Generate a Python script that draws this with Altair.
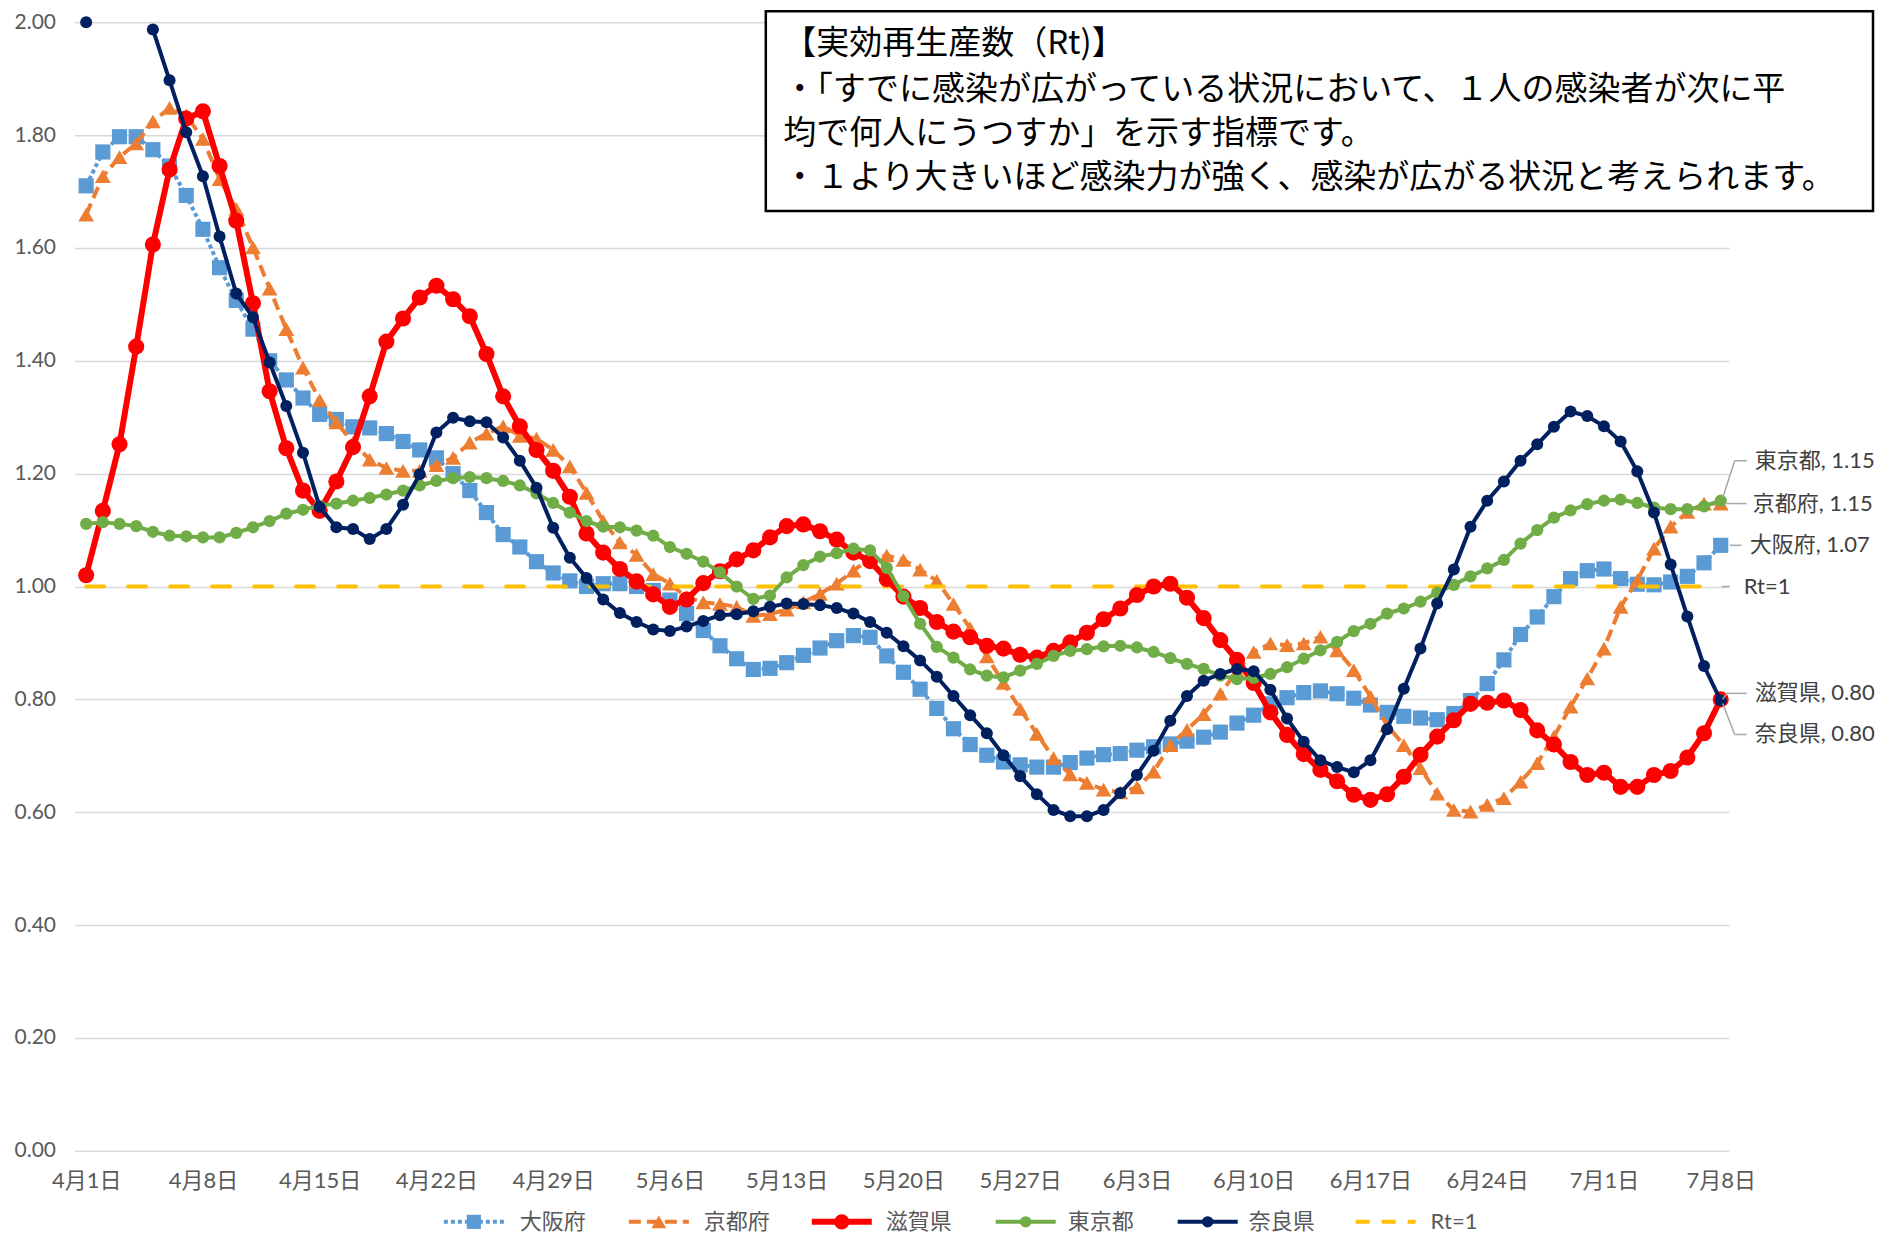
import altair as alt
import pandas as pd

# ---------------- data ----------------
dates = pd.date_range("2021-04-01", "2021-07-08", freq="D")  # 99 days
tick_days = [0, 7, 14, 21, 28, 35, 42, 49, 56, 63, 70, 77, 84, 91, 98]
tick_labels = ["4月1日", "4月8日", "4月15日", "4月22日", "4月29日", "5月6日", "5月13日",
               "5月20日", "5月27日", "6月3日", "6月10日", "6月17日", "6月24日", "7月1日", "7月8日"]
y_ticks = [0.0, 0.2, 0.4, 0.6, 0.8, 1.0, 1.2, 1.4, 1.6, 1.8, 2.0]

osaka = [1.71, 1.77, 1.797, 1.797, 1.774, 1.745, 1.693, 1.633, 1.565, 1.507,
         1.456, 1.40, 1.366, 1.334, 1.305, 1.296, 1.283, 1.281, 1.271, 1.257,
         1.242, 1.228, 1.20, 1.17, 1.131, 1.092, 1.07, 1.044, 1.024, 1.01,
         1.0, 1.005, 1.005, 1.0, 0.993, 0.976, 0.952, 0.922, 0.895, 0.872,
         0.853, 0.855, 0.865, 0.878, 0.891, 0.904, 0.913, 0.91, 0.877, 0.848,
         0.818, 0.784, 0.748, 0.72, 0.701, 0.689, 0.684, 0.68, 0.68, 0.688,
         0.696, 0.702, 0.704, 0.71, 0.716, 0.721, 0.726, 0.733, 0.742, 0.758,
         0.772, 0.792, 0.803, 0.812, 0.815, 0.81, 0.802, 0.79, 0.777, 0.77,
         0.767, 0.764, 0.775, 0.798, 0.828, 0.87, 0.915, 0.946, 0.982, 1.014,
         1.028, 1.031, 1.014, 1.004, 1.003, 1.008, 1.018, 1.042, 1.073]

kyoto = [1.659, 1.727, 1.761, 1.785, 1.824, 1.848, 1.835, 1.793, 1.722, 1.669,
         1.601, 1.528, 1.456, 1.388, 1.33, 1.291, 1.255, 1.225, 1.21, 1.205,
         1.205, 1.215, 1.228, 1.255, 1.271, 1.284, 1.267, 1.262, 1.242, 1.213,
         1.166, 1.116, 1.078, 1.056, 1.022, 1.005, 0.981, 0.972, 0.969, 0.964,
         0.948, 0.951, 0.959, 0.972, 0.987, 1.005, 1.028, 1.049, 1.055, 1.047,
         1.03, 1.01, 0.969, 0.926, 0.876, 0.829, 0.783, 0.739, 0.696, 0.667,
         0.652, 0.64, 0.635, 0.644, 0.672, 0.719, 0.746, 0.774, 0.81, 0.85,
         0.884, 0.899, 0.896, 0.899, 0.911, 0.887, 0.852, 0.805, 0.754, 0.719,
         0.678, 0.633, 0.604, 0.601, 0.613, 0.625, 0.654, 0.687, 0.734, 0.787,
         0.837, 0.89, 0.964, 1.011, 1.067, 1.106, 1.132, 1.147, 1.147]

shiga = [1.02, 1.134, 1.252, 1.425, 1.606, 1.739, 1.829, 1.842, 1.745, 1.648,
         1.502, 1.346, 1.245, 1.17, 1.134, 1.186, 1.247, 1.337, 1.434, 1.475,
         1.512, 1.533, 1.509, 1.479, 1.412, 1.337, 1.284, 1.242, 1.205, 1.159,
         1.094, 1.06, 1.031, 1.009, 0.986, 0.964, 0.977, 1.006, 1.027, 1.048,
         1.064, 1.087, 1.107, 1.11, 1.098, 1.083, 1.06, 1.045, 1.013, 0.982,
         0.962, 0.937, 0.92, 0.91, 0.895, 0.89, 0.879, 0.874, 0.886, 0.901,
         0.918, 0.942, 0.961, 0.985, 1.0, 1.005, 0.98, 0.944, 0.905, 0.87,
         0.829, 0.777, 0.737, 0.703, 0.675, 0.655, 0.631, 0.622, 0.632, 0.663,
         0.702, 0.734, 0.763, 0.792, 0.794, 0.798, 0.781, 0.745, 0.72, 0.689,
         0.666, 0.67, 0.645, 0.645, 0.666, 0.673, 0.697, 0.74, 0.80]

tokyo = [1.111, 1.114, 1.111, 1.107, 1.097, 1.09, 1.089, 1.087, 1.087, 1.095,
         1.105, 1.116, 1.129, 1.136, 1.143, 1.147, 1.152, 1.157, 1.163, 1.17,
         1.179, 1.187, 1.192, 1.194, 1.192, 1.187, 1.179, 1.165, 1.148, 1.131,
         1.116, 1.106, 1.105, 1.099, 1.09, 1.07, 1.058, 1.044, 1.025, 1.0,
         0.978, 0.984, 1.016, 1.038, 1.053, 1.059, 1.067, 1.064, 1.033, 0.983,
         0.934, 0.893, 0.874, 0.853, 0.842, 0.839, 0.851, 0.863, 0.877, 0.886,
         0.889, 0.894, 0.895, 0.892, 0.884, 0.873, 0.863, 0.854, 0.842, 0.836,
         0.838, 0.845, 0.857, 0.872, 0.887, 0.902, 0.921, 0.934, 0.952, 0.961,
         0.973, 0.989, 1.003, 1.018, 1.032, 1.047, 1.076, 1.1, 1.122, 1.135,
         1.146, 1.152, 1.154, 1.148, 1.14, 1.137, 1.137, 1.142, 1.152]

nara = [2.0, None, None, None, 1.987, 1.897, 1.805, 1.727, 1.62, 1.519,
        1.477, 1.397, 1.32, 1.237, 1.141, 1.105, 1.102, 1.084, 1.102, 1.145,
        1.199, 1.273, 1.299, 1.293, 1.291, 1.264, 1.223, 1.175, 1.104, 1.051,
        1.015, 0.977, 0.953, 0.937, 0.924, 0.921, 0.929, 0.939, 0.949, 0.951,
        0.956, 0.964, 0.97, 0.969, 0.967, 0.962, 0.952, 0.937, 0.918, 0.894,
        0.869, 0.84, 0.806, 0.772, 0.74, 0.701, 0.664, 0.632, 0.604, 0.593,
        0.593, 0.604, 0.634, 0.666, 0.709, 0.762, 0.806, 0.833, 0.845, 0.854,
        0.85, 0.817, 0.766, 0.725, 0.692, 0.68, 0.671, 0.692, 0.747, 0.819,
        0.89, 0.97, 1.03, 1.106, 1.152, 1.186, 1.223, 1.252, 1.283, 1.31,
        1.302, 1.284, 1.257, 1.204, 1.131, 1.039, 0.947, 0.859, 0.798]

rt_line = [1.0] * 99

note_lines = [
    "【実効再生産数（Rt)】",
    "・「すでに感染が広がっている状況において、１人の感染者が次に平",
    "均で何人にうつすか」を示す指標です。",
    "・１より大きいほど感染力が強く、感染が広がる状況と考えられます。",
]

# ---------------- layout / style ----------------
W, H = 1655, 1129
XMIN, XMAX = -0.7, 98.5
FONT = "Lato, 'Noto Sans CJK JP', sans-serif"
LABEL_COLOR = "#595959"


def xpx(d):
    return (d - XMIN) / (XMAX - XMIN) * W


def ypx(v):
    return H * (1 - v / 2.0)


def frame(vals):
    df = pd.DataFrame({"day": list(range(len(vals))), "value": vals,
                       "date": dates.strftime("%Y-%m-%d")})
    df["seg"] = df["value"].isna().cumsum()
    return df.dropna(subset=["value"])


label_expr = "[" + ",".join("'%s'" % t for t in tick_labels) + "][round(datum.value/7)]"

x_scale = alt.Scale(domain=[XMIN, XMAX], nice=False, zero=False)
y_scale = alt.Scale(domain=[0, 2], nice=False)

x_axis = alt.Axis(values=tick_days, labelExpr=label_expr, grid=False, domain=False,
                  ticks=False, labelPadding=20, labelFontSize=22, labelFont=FONT,
                  labelColor=LABEL_COLOR, title=None, labelOverlap=False, labelFlush=False)
y_axis = alt.Axis(values=y_ticks, format=".2f", grid=True, gridColor="#D9D9D9",
                  gridWidth=1.5, domain=False, ticks=False, labelPadding=19,
                  labelFontSize=21, labelFont=FONT, labelColor=LABEL_COLOR, title=None)

X = alt.X("day:Q", scale=x_scale, axis=x_axis)
Y = alt.Y("value:Q", scale=y_scale, axis=y_axis)

series = [
    # name, values, color, dash, line width, shape, size
    ("大阪府", osaka, "#5B9BD5", [4, 3], 4, "square", 230),
    ("京都府", kyoto, "#ED7D31", [12, 6], 4, "triangle-up", 250),
    ("滋賀県", shiga, "#FF0000", None, 6, "circle", 260),
    ("東京都", tokyo, "#70AD47", None, 4, "circle", 150),
    ("奈良県", nara, "#002060", None, 4, "circle", 145),
]


def series_layers(vals, color, dash, lw, shape, size):
    df = frame(vals)
    lkw = dict(color=color, strokeWidth=lw)
    if dash:
        lkw["strokeDash"] = dash
    line = alt.Chart(df).mark_line(**lkw).encode(x=X, y=Y, detail="seg:N")
    pts = alt.Chart(df).mark_point(filled=True, opacity=1, shape=shape, size=size,
                                   color=color).encode(x=X, y=Y)
    return [line, pts]


layers = []
layers += series_layers(*series[0][1:])
layers += series_layers(*series[1][1:])
# Rt = 1 reference line
layers.append(alt.Chart(frame(rt_line)).mark_line(
    color="#FFC000", strokeWidth=4, strokeDash=[18, 24], strokeCap="round").encode(x=X, y=Y))
layers += series_layers(*series[2][1:])
layers += series_layers(*series[3][1:])
layers += series_layers(*series[4][1:])

# ---------------- end-of-line data labels ----------------
last = {"東京都": tokyo[-1], "京都府": kyoto[-1], "大阪府": osaka[-1],
        "滋賀県": shiga[-1], "奈良県": nara[-1]}
label_specs = [  # text, value, dx, dy
    ("東京都, %.2f" % last["東京都"], last["東京都"], 34, -40),
    ("京都府, %.2f" % last["京都府"], last["京都府"], 32, 0),
    ("大阪府, %.2f" % last["大阪府"], last["大阪府"], 29, 0),
    ("Rt=1", rt_line[-1], 23, 0),
    ("滋賀県, %.2f" % last["滋賀県"], last["滋賀県"], 34, -6),
    ("奈良県, %.2f" % last["奈良県"], last["奈良県"], 34, 34),
]
for txt, v, dx, dy in label_specs:
    d = pd.DataFrame({"day": [98], "value": [v], "txt": [txt]})
    layers.append(alt.Chart(d).mark_text(align="left", baseline="middle", dx=dx, dy=dy,
                                         font=FONT, fontSize=22, color="#404040")
                  .encode(x=X, y=Y, text="txt:N"))

# leader lines (pixel offsets relative to the last point)
px = xpx(98)
seg_rows = []


def add_seg(v, a, b, c, d):
    py = ypx(v)
    seg_rows.append({"x0": px + a, "y0": py + b, "x1": px + c, "y1": py + d})


add_seg(last["東京都"], 2, -3, 14, -40)
add_seg(last["東京都"], 14, -40, 26, -40)
add_seg(last["京都府"], 6, 0, 26, 0)
add_seg(last["大阪府"], 9, 0, 21, 0)
add_seg(1.0, 1, 0, 9, 0)
add_seg(last["滋賀県"], 2, 0, 6, -6)
add_seg(last["滋賀県"], 6, -6, 26, -6)
add_seg(last["奈良県"], 2, 3, 14, 34)
add_seg(last["奈良県"], 14, 34, 26, 34)
layers.append(alt.Chart(pd.DataFrame(seg_rows)).mark_rule(color="#A6A6A6", strokeWidth=1.5)
              .encode(x=alt.X("x0:Q", scale=None), y=alt.Y("y0:Q", scale=None),
                      x2="x1:Q", y2="y1:Q"))

# ---------------- text box ----------------
box_df = pd.DataFrame({"a": [0]})
layers.append(alt.Chart(box_df).mark_rect(fill="white", stroke="black", strokeWidth=2.5)
              .encode(x=alt.value(691.5), x2=alt.value(1799), y=alt.value(-11), y2=alt.value(189)))
note_y = [22, 68, 112, 156]
for t, yy in zip(note_lines, note_y):
    layers.append(alt.Chart(box_df).mark_text(align="left", baseline="middle",
                                              font="'Noto Sans CJK JP'", fontSize=33, color="black")
                  .encode(x=alt.value(709), y=alt.value(yy), text=alt.value(t)))

# ---------------- legend (manual) ----------------
LEG_Y = H + 71
legend_items = [  # name, color, dash, width, shape, size, symbol centre (page x), text x (page)
    ("大阪府", "#5B9BD5", [4, 3], 4, "square", 200, 474, 520),
    ("京都府", "#ED7D31", [12, 6], 4, "triangle-up", 220, 659, 704),
    ("滋賀県", "#FF0000", None, 6, "circle", 230, 842, 886),
    ("東京都", "#70AD47", None, 4, "circle", 130, 1026, 1068),
    ("奈良県", "#002060", None, 4, "circle", 130, 1208, 1249),
    ("Rt=1", "#FFC000", [14, 12], 4, None, 0, 1386, 1431),
]
OX = 74.5
for name, color, dash, lw, shape, size, cx, tx in legend_items:
    cx -= OX
    tx -= OX
    rkw = dict(color=color, strokeWidth=lw)
    if dash:
        rkw["strokeDash"] = dash
    layers.append(alt.Chart(box_df).mark_rule(**rkw).encode(
        x=alt.value(cx - 30), x2=alt.value(cx + 30), y=alt.value(LEG_Y), y2=alt.value(LEG_Y)))
    if shape:
        layers.append(alt.Chart(box_df).mark_point(filled=True, opacity=1, shape=shape,
                                                   size=size, color=color)
                      .encode(x=alt.value(cx), y=alt.value(LEG_Y)))
    layers.append(alt.Chart(box_df).mark_text(align="left", baseline="middle", font=FONT,
                                              fontSize=22, color=LABEL_COLOR)
                  .encode(x=alt.value(tx), y=alt.value(LEG_Y), text=alt.value(name)))

chart = alt.layer(*layers).properties(
    width=W, height=H,
    autosize=alt.AutoSizeParams(type="none"),
    padding={"left": 66.5, "top": 14, "right": 146, "bottom": 88},
    background="white",
).configure_view(stroke=None)

chart.save("out.html", embed_options={"renderer": "svg", "actions": False})
